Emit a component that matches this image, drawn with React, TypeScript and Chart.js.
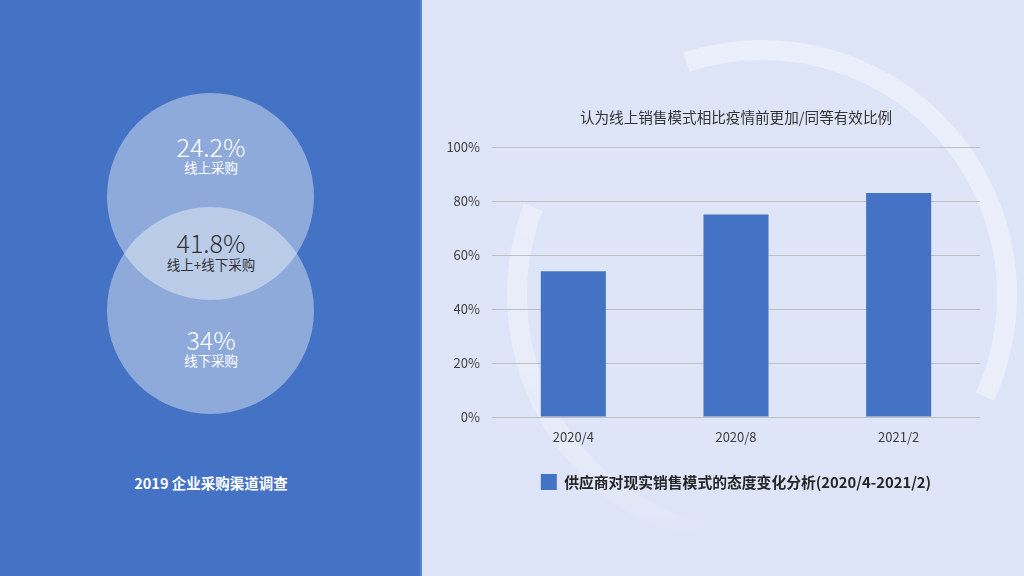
import React, { useEffect, useRef } from 'react';
import { Chart, registerables } from 'chart.js';

Chart.register(...registerables);

// ---- data ----
const categories = ['2020/4', '2020/8', '2021/2'];
const seriesValues = [54, 75, 83];
const seriesLabel = '供应商对现实销售模式的态度变化分析(2020/4-2021/2)';
const chartTitle = '认为线上销售模式相比疫情前更加/同等有效比例';
const yTicks = [0, 20, 40, 60, 80, 100];

const vennValues = ['24.2%', '41.8%', '34%'];
const vennLabels = ['线上采购', '线上+线下采购', '线下采购'];
const leftTitle = '2019 企业采购渠道调查';

const FONT = '"Noto Sans CJK SC", "Noto Sans", sans-serif';

const bgArcs = {
  id: 'bgArcs',
  beforeDraw(chart: any) {
    const ctx = chart.ctx as CanvasRenderingContext2D;
    const d = Math.PI / 180;
    const cx = 340;
    const cy = 295;
    const r = 245;
    ctx.save();
    ctx.lineWidth = 20;
    ctx.lineCap = 'butt';
    ctx.strokeStyle = 'rgba(255,255,255,0.38)';
    ctx.beginPath();
    ctx.arc(cx, cy, r, -108 * d, 24.5 * d);
    ctx.stroke();
    const g = ctx.createLinearGradient(0, 200, 0, 540);
    g.addColorStop(0, 'rgba(255,255,255,0.36)');
    g.addColorStop(0.7, 'rgba(255,255,255,0.28)');
    g.addColorStop(1, 'rgba(255,255,255,0)');
    ctx.strokeStyle = g;
    ctx.beginPath();
    ctx.arc(cx, cy, r, 105 * d, 201 * d);
    ctx.stroke();
    ctx.restore();
  },
};

function BarChart() {
  const ref = useRef<HTMLCanvasElement | null>(null);
  useEffect(() => {
    if (!ref.current) return;
    const chart = new Chart(ref.current, {
      type: 'bar',
      data: {
        labels: categories,
        datasets: [
          {
            label: seriesLabel,
            data: seriesValues,
            backgroundColor: '#4472C4',
            borderWidth: 0,
            categoryPercentage: 0.8,
            barPercentage: 0.5,
          },
        ],
      },
      options: {
        animation: false,
        responsive: false,
        layout: { padding: { top: 0, left: 0, right: 44, bottom: 76 } },
        plugins: {
          title: {
            display: true,
            text: chartTitle,
            fullSize: false,
            color: '#333333',
            font: { family: FONT, size: 14.6, weight: 'normal', lineHeight: 1.2 },
            padding: { top: 108.2, bottom: 21.3 },
          },
          legend: {
            display: true,
            position: 'bottom',
            fullSize: false,
            labels: {
              boxWidth: 16,
              boxHeight: 16,
              padding: 10,
              color: '#262626',
              font: { family: FONT, size: 14.8, weight: 'bold' },
            },
          },
          tooltip: { enabled: false },
        },
        scales: {
          x: {
            grid: { display: false, drawTicks: false },
            border: { display: false },
            ticks: { color: '#404040', font: { family: FONT, size: 13 }, padding: 12 },
            afterFit: (s: any) => {
              s.height = 47;
            },
          },
          y: {
            min: 0,
            max: 100,
            grid: { color: '#BFBFBF', lineWidth: 1, drawTicks: false },
            border: { display: false },
            ticks: {
              color: '#404040',
              font: { family: FONT, size: 13 },
              padding: 12,
              callback: (v: any) => v + '%',
            },
            afterBuildTicks: (s: any) => {
              s.ticks = yTicks.map((v) => ({ value: v }));
            },
            afterFit: (s: any) => {
              s.width = 70;
            },
          },
        },
      } as any,
      plugins: [bgArcs],
    });
    return () => chart.destroy();
  }, []);
  return <canvas ref={ref} width={602} height={576} style={{ display: 'block', width: 602, height: 576 }} />;
}

const circleStyle = (top: number): React.CSSProperties => ({
  position: 'absolute',
  left: 107,
  top,
  width: 207,
  height: 207,
  borderRadius: '50%',
  background: 'rgba(255,255,255,0.4)',
});

const textAt = (y: number, size: number, color: string, weight: number | string, content: string) => (
  <div
    style={{
      position: 'absolute',
      left: 110,
      width: 202,
      top: y,
      transform: 'translateY(-50%)',
      textAlign: 'center',
      fontFamily: FONT,
      fontSize: size,
      lineHeight: 1,
      color,
      fontWeight: weight as any,
      whiteSpace: 'nowrap',
    }}
  >
    {content}
  </div>
);

export default function App() {
  return (
    <div
      style={{
        position: 'absolute',
        left: 0,
        top: 0,
        width: 1024,
        height: 576,
        overflow: 'hidden',
        background: '#DFE5F8',
      }}
    >
      <div style={{ position: 'absolute', left: 0, top: 0, width: 422, height: 576, background: '#4472C4' }} />
      <div style={{ position: 'absolute', left: 420, top: 0, width: 2, height: 576, background: '#5A84CE' }} />
      <div style={circleStyle(93)} />
      <div style={circleStyle(207)} />
      {textAt(146, 25, '#FFFFFF', 300, vennValues[0])}
      {textAt(168, 13.5, '#FFFFFF', 400, vennLabels[0])}
      {textAt(242, 25, '#333333', 300, vennValues[1])}
      {textAt(265, 13.5, '#333333', 400, vennLabels[1])}
      {textAt(339, 25, '#FFFFFF', 300, vennValues[2])}
      {textAt(361, 13.5, '#FFFFFF', 400, vennLabels[2])}
      <div
        style={{
          position: 'absolute',
          left: 60,
          width: 302,
          top: 483,
          transform: 'translateY(-50%)',
          textAlign: 'center',
          fontFamily: FONT,
          fontSize: 14.5,
          fontWeight: 'bold',
          lineHeight: 1,
          color: '#FFFFFF',
          whiteSpace: 'nowrap',
        }}
      >
        {leftTitle}
      </div>
      <div style={{ position: 'absolute', left: 422, top: 0 }}>
        <BarChart />
      </div>
    </div>
  );
}
